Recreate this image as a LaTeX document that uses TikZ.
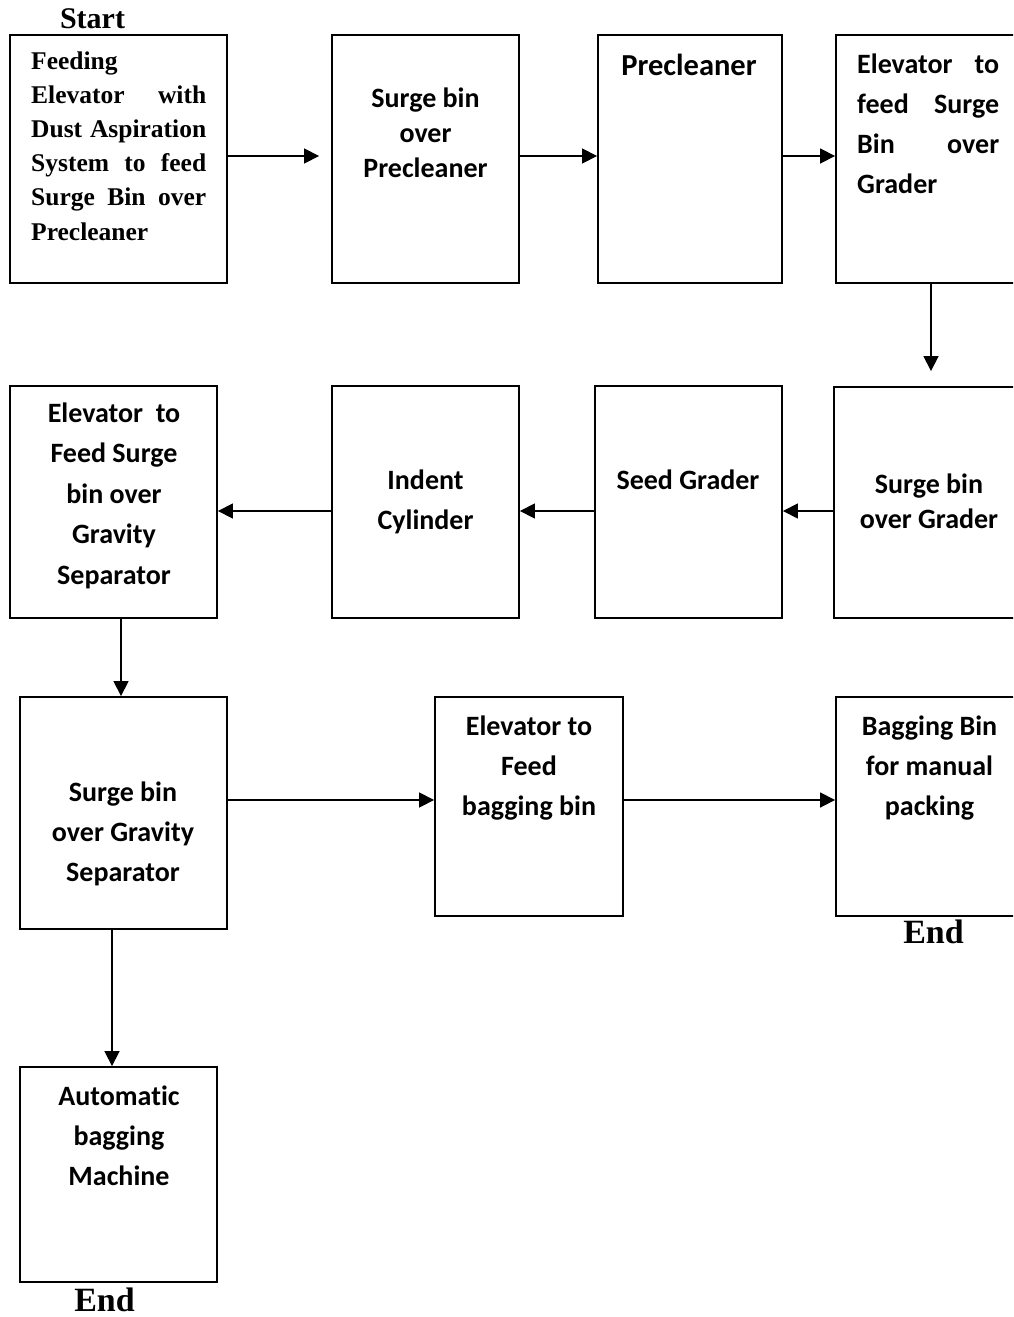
\documentclass[tikz,border=0pt]{standalone}
\usepackage{fontspec}
\setmainfont{Liberation Serif}
\newfontfamily\carl[Ligatures=NoCommon]{Carlito}
\usetikzlibrary{arrows.meta}
\newcommand\cstack[1]{\begin{tabular}[t]{@{}c@{}}#1\end{tabular}}
\newcommand\lstack[1]{\begin{tabular}[t]{@{}l@{}}#1\end{tabular}}
\begin{document}
\begin{tikzpicture}[x=1pt,y=-1pt,
  box/.style={draw,line width=1.9pt,rectangle,inner sep=0pt},
  arr/.style={line width=1.7pt,-{Triangle[length=15pt,width=15pt]}},
  lbl/.style={anchor=base,inner sep=0pt,font=\carl\bfseries\fontsize{28}{40}\selectfont},
  lbltight/.style={lbl,font=\carl\bfseries\fontsize{28}{35}\selectfont},
  serif/.style={inner sep=0pt,font=\bfseries\fontsize{25.5}{34.2}\selectfont},
  term/.style={anchor=base,inner sep=0pt,font=\bfseries\fontsize{34}{40}\selectfont}]
\useasboundingbox (0,0) rectangle (1013,1317);
\clip (0,0) rectangle (1013,1317);
\fill[white] (0,0) rectangle (1013,1317);

% boxes
\node[box,minimum width=217pt,minimum height=248pt] (B1) at (118.5,159) {};
\node[box,minimum width=187pt,minimum height=248pt] (B2) at (425.5,159) {};
\node[box,minimum width=184pt,minimum height=248pt] (B3) at (690,159) {};
\node[box,minimum width=186pt,minimum height=248pt] (B4) at (929,159) {};
\node[box,minimum width=188pt,minimum height=231pt] (B5) at (928,502.5) {};
\node[box,minimum width=187pt,minimum height=232pt] (B6) at (688.5,502) {};
\node[box,minimum width=187pt,minimum height=232pt] (B7) at (425.5,502) {};
\node[box,minimum width=207pt,minimum height=232pt] (B8) at (113.5,502) {};
\node[box,minimum width=207pt,minimum height=232pt] (B9) at (123.5,813) {};
\node[box,minimum width=188pt,minimum height=219pt] (B10) at (529,806.5) {};
\node[box,minimum width=186pt,minimum height=219pt] (B11) at (929,806.5) {};
\node[box,minimum width=197pt,minimum height=215pt] (B12) at (118.5,1174.5) {};

% texts
\node[term,font=\bfseries\fontsize{30}{36}\selectfont] (start) at (92.5,28) {Start};
\node[serif,anchor=base west] (t1) at (31,69) {\lstack{Feeding\\
  \makebox[175pt][s]{Elevator with}\\
  \makebox[175pt][s]{Dust Aspiration}\\
  \makebox[175pt][s]{System to feed}\\
  \makebox[175pt][s]{Surge Bin over}\\
  Precleaner}};
\node[lbltight] (t2) at (425.5,107) {\cstack{Surge bin\\over\\Precleaner}};
\node[lbl,font=\carl\bfseries\fontsize{30.5}{36}\selectfont] (t3) at (689,75) {Precleaner};
\node[lbl,anchor=base west] (t4) at (857,73) {\lstack{\makebox[142pt][s]{Elevator to}\\
  \makebox[142pt][s]{feed Surge}\\
  \makebox[142pt][s]{Bin over}\\
  Grader}};
\node[lbltight] (t5) at (929,493) {\cstack{Surge bin\\over Grader}};
\node[lbl] (t6) at (688,489) {Seed Grader};
\node[lbl] (t7) at (425.5,489) {\cstack{Indent\\Cylinder}};
\node[lbl,font=\carl\bfseries\fontsize{28}{40.5}\selectfont] (t8) at (114,422) {\cstack{Elevator~ to\\Feed Surge\\bin over\\Gravity\\Separator}};
\node[lbl] (t9) at (123,801) {\cstack{Surge bin\\over Gravity\\Separator}};
\node[lbl] (t10) at (529,735) {\cstack{Elevator to\\Feed\\bagging bin}};
\node[lbl] (t11) at (929.5,735) {\cstack{Bagging Bin\\for manual\\packing}};
\node[lbl] (t12) at (119,1105) {\cstack{Automatic\\bagging\\Machine}};
\node[term] (end1) at (933.5,943) {End};
\node[term] (end2) at (104.5,1311) {End};

% guide coordinates
\coordinate (ya) at (0,156);
\coordinate (yb) at (0,511);
\coordinate (yc) at (0,800);
\coordinate (xa) at (931,0);
\coordinate (xb) at (121,0);
\coordinate (xc) at (112,0);

% connectors
\draw[arr,shorten >=12pt] (B1.east |- ya) -- (B2.west |- ya);
\draw[arr] (B2.east |- ya) -- (B3.west |- ya);
\draw[arr] (B3.east |- ya) -- (B4.west |- ya);
\draw[arr,shorten >=15pt] (B4.south -| xa) -- (B5.north -| xa);
\draw[arr] (B5.west |- yb) -- (B6.east |- yb);
\draw[arr] (B6.west |- yb) -- (B7.east |- yb);
\draw[arr] (B7.west |- yb) -- (B8.east |- yb);
\draw[arr] (B8.south -| xb) -- (B9.north -| xb);
\draw[arr] (B9.east |- yc) -- (B10.west |- yc);
\draw[arr] (B10.east |- yc) -- (B11.west |- yc);
\draw[arr] (B9.south -| xc) -- (B12.north -| xc);
\end{tikzpicture}
\end{document}
